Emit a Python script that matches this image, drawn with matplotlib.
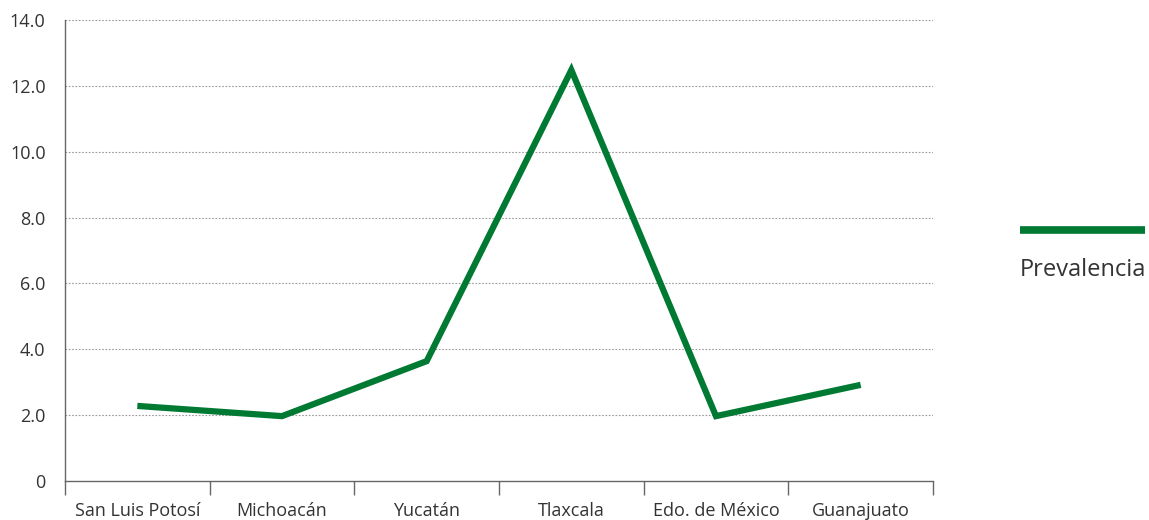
import matplotlib.pyplot as plt
from matplotlib.lines import Line2D

plt.rcParams['font.family'] = ['Open Sans', 'DejaVu Sans']

estados = ['San Luis Potosí', 'Michoacán', 'Yucatán', 'Tlaxcala',
           'Edo. de México', 'Guanajuato']
prevalencia = [2.28, 1.97, 3.64, 12.48, 1.97, 2.92]
y_ticks = [0, 2, 4, 6, 8, 10, 12, 14]
y_labels = ['0', '2.0', '4.0', '6.0', '8.0', '10.0', '12.0', '14.0']

verde = '#007a33'
texto = '#333333'
eje = '#666666'

fig = plt.figure(figsize=(11.49, 5.20), dpi=100)
ax = fig.add_axes([65 / 1149, 39 / 520, 868 / 1149, 461 / 520])

x = range(len(estados))
ax.plot(x, prevalencia, color=verde, linewidth=4.5,
        solid_joinstyle='miter', solid_capstyle='butt')

ax.set_xlim(-0.5, len(estados) - 0.5)
ax.set_ylim(0, 14)
ax.set_yticks(y_ticks)
ax.set_yticklabels(y_labels)
for y in y_ticks[1:]:
    ax.axhline(y, color='#999999', linestyle=(0, (1.5, 1.5)), linewidth=0.8, zorder=0)

# category labels centred, ticks on the boundaries
ax.set_xticks([i - 0.5 for i in range(len(estados) + 1)])
ax.set_xticklabels([])
ax.set_xticks(list(x), minor=True)
ax.set_xticklabels(estados, minor=True)
ax.tick_params(axis='x', which='major', length=10, width=1, color=eje, direction='out')
ax.tick_params(axis='x', which='minor', length=0, pad=15, labelsize=13, labelcolor=texto)
ax.tick_params(axis='y', length=0, pad=14, labelsize=13, labelcolor=texto)

for s in ['top', 'right']:
    ax.spines[s].set_visible(False)
for s in ['left', 'bottom']:
    ax.spines[s].set_color(eje)
    ax.spines[s].set_linewidth(1)

# legend drawn by hand: swatch above the label
fig.add_artist(Line2D([1020 / 1149, 1145 / 1149], [1 - 230 / 520, 1 - 230 / 520],
                      color=verde, linewidth=5.5, solid_capstyle='butt',
                      transform=fig.transFigure))
fig.text(1020 / 1149, 1 - 270 / 520, 'Prevalencia', fontsize=17, color=texto,
         ha='left', va='center')

fig.savefig('out.png', dpi=100)
